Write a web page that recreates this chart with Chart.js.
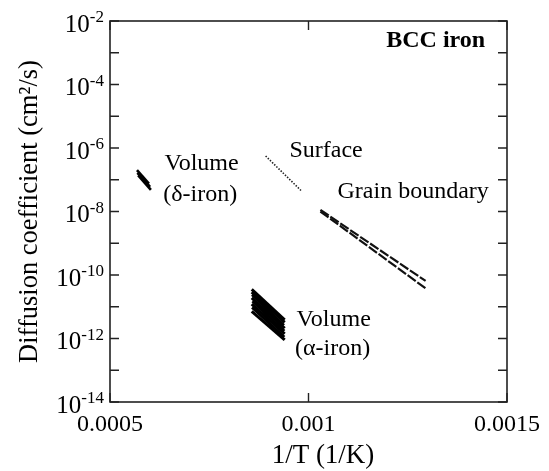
<!DOCTYPE html>
<html>
<head>
<meta charset="utf-8">
<script src="https://cdn.jsdelivr.net/npm/chart.js@4"></script>
<style>
  html, body { margin: 0; padding: 0; background: #fff; }
  #wrap { width: 549px; height: 471px; }
</style>
</head>
<body>
<div id="wrap"><canvas id="grafico"></canvas></div>
<script>
// eixo x: 1/T (1/K), eixo y: D (cm2/s), escala log
const xTickValues = [0.0005, 0.001, 0.0015];
const xTickLabels = ['0.0005', '0.001', '0.0015'];
const yTickExponents = [-14, -13, -12, -11, -10, -9, -8, -7, -6, -5, -4, -3, -2];

// Surface
const surfaceX = [0.000892, 0.000981];
const surfaceD = [5.6e-7, 4.6e-8];

// Grain boundary (duas linhas tracejadas)
const gbX = [0.00103, 0.001295];
const gbUpperD = [1.12e-8, 6.5e-11];
const gbLowerD = [1.0e-8, 3.8e-11];

// Volume (delta-iron)
const deltaStartX = [0.000568, 0.000569, 0.000571];
const deltaEndX = [0.000598, 0.000601, 0.000603];
const deltaStartD = [2.0e-7, 1.66e-7, 1.38e-7];
const deltaEndD = [7.6e-8, 6.0e-8, 4.8e-8];

// Volume (alpha-iron)
const alphaStartX = [0.000857, 0.000857, 0.000858, 0.000857, 0.000859, 0.000857, 0.000858, 0.000857];
const alphaEndX = [0.00094, 0.00094, 0.000938, 0.00094, 0.000939, 0.00094, 0.000939, 0.00094];
const alphaStartD = [3.5e-11, 2.9e-11, 2.4e-11, 1.9e-11, 1.5e-11, 1.2e-11, 9.5e-12, 7.2e-12];
const alphaEndD = [3.9e-12, 3.2e-12, 2.6e-12, 2.1e-12, 1.7e-12, 1.4e-12, 1.1e-12, 9.1e-13];

// textos no gráfico
const notes = [
    { text: 'BCC iron', x: 0.001445, y: 2.3e-3, align: 'right', bold: true },
    { text: 'Surface', x: 0.000952, y: 8.5e-7, align: 'left' },
    { text: 'Grain boundary', x: 0.001073, y: 4.1e-8, align: 'left' },
    { text: 'Volume', x: 0.000637, y: 3.1e-7, align: 'left' },
    { text: '(δ-iron)', x: 0.000634, y: 3.4e-8, align: 'left' },
    { text: 'Volume', x: 0.00097, y: 3.9e-12, align: 'left' },
    { text: '(α-iron)', x: 0.000966, y: 4.7e-13, align: 'left' }
];

const serif = "'Liberation Serif', 'Times New Roman', serif";

function linha(xs, ds) {
    return xs.map((x, i) => ({ x: x, y: ds[i] }));
}

const datasets = [];

datasets.push({
    label: 'Surface',
    data: linha(surfaceX, surfaceD),
    borderColor: '#222', borderWidth: 1.6, borderDash: [1.5, 1.5]
});
datasets.push({
    label: 'Grain boundary 1',
    data: linha(gbX, gbUpperD),
    borderColor: '#111', borderWidth: 2.2, borderDash: [10, 2]
});
datasets.push({
    label: 'Grain boundary 2',
    data: linha(gbX, gbLowerD),
    borderColor: '#111', borderWidth: 2.2, borderDash: [10, 2]
});
for (let i = 0; i < deltaStartX.length; i++) {
    datasets.push({
        label: 'Volume delta ' + (i + 1),
        data: linha([deltaStartX[i], deltaEndX[i]], [deltaStartD[i], deltaEndD[i]]),
        borderColor: '#000', borderWidth: 2.6
    });
}
for (let i = 0; i < alphaStartX.length; i++) {
    datasets.push({
        label: 'Volume alpha ' + (i + 1),
        data: linha([alphaStartX[i], alphaEndX[i]], [alphaStartD[i], alphaEndD[i]]),
        borderColor: '#000', borderWidth: 3
    });
}
datasets.forEach(d => { d.showLine = true; d.pointRadius = 0; d.fill = false; });

const decorPlugin = {
    id: 'decor',
    afterDraw(chart) {
        const { ctx, chartArea: a, scales } = chart;
        const x = scales.x, y = scales.y;
        ctx.save();

        // moldura
        ctx.strokeStyle = '#222';
        ctx.lineWidth = 1.6;
        ctx.strokeRect(a.left, a.top, a.right - a.left, a.bottom - a.top);

        // ticks para dentro
        ctx.lineWidth = 1.4;
        ctx.beginPath();
        y.ticks.forEach(t => {
            const py = y.getPixelForValue(t.value);
            ctx.moveTo(a.left, py); ctx.lineTo(a.left + 9, py);
            ctx.moveTo(a.right, py); ctx.lineTo(a.right - 9, py);
        });
        x.ticks.forEach(t => {
            const px = x.getPixelForValue(t.value);
            ctx.moveTo(px, a.top); ctx.lineTo(px, a.top + 9);
            ctx.moveTo(px, a.bottom); ctx.lineTo(px, a.bottom - 9);
        });
        ctx.stroke();

        // rótulos do eixo y com expoente
        ctx.fillStyle = '#000';
        yTickExponents.forEach(e => {
            if (e % 2 !== 0) return;
            const py = y.getPixelForValue(Math.pow(10, e));
            const sup = String(e);
            ctx.font = '17px ' + serif;
            const supW = ctx.measureText(sup).width;
            const rightEdge = 104;
            ctx.textBaseline = 'middle';
            ctx.textAlign = 'left';
            ctx.fillText(sup, rightEdge - supW, py - 3);
            ctx.font = '25px ' + serif;
            ctx.textAlign = 'right';
            ctx.fillText('10', rightEdge - supW, py + 4);
        });

        // título do eixo x
        ctx.font = '27px ' + serif;
        ctx.textAlign = 'center';
        ctx.textBaseline = 'middle';
        ctx.fillText('1/T (1/K)', 323, 456);

        // anotações
        notes.forEach(n => {
            ctx.font = (n.bold ? 'bold ' : '') + '24px ' + serif;
            ctx.textAlign = n.align;
            ctx.textBaseline = 'middle';
            ctx.fillText(n.text, x.getPixelForValue(n.x), y.getPixelForValue(n.y));
        });

        ctx.restore();
    }
};

const ctx = document.getElementById('grafico').getContext('2d');
new Chart(ctx, {
    type: 'scatter',
    data: { datasets: datasets },
    options: {
        responsive: true,
        maintainAspectRatio: false,
        animation: false,
        devicePixelRatio: 1,
        layout: { padding: { top: 21, right: 42, left: 0, bottom: 0 } },
        plugins: {
            legend: { display: false },
            tooltip: { enabled: false }
        },
        scales: {
            x: {
                type: 'linear',
                min: 0.0005,
                max: 0.0015,
                afterBuildTicks: (scale) => { scale.ticks = xTickValues.map(v => ({ value: v })); },
                afterFit: (scale) => { scale.height = 69; },
                grid: { display: false },
                border: { display: false },
                ticks: {
                    color: '#000',
                    padding: 0,
                    maxRotation: 0,
                    font: { family: serif, size: 24 },
                    callback: function (value) {
                        const i = xTickValues.findIndex(v => Math.abs(v - value) < 1e-9);
                        return i >= 0 ? xTickLabels[i] : '';
                    }
                }
            },
            y: {
                type: 'logarithmic',
                min: 1e-14,
                max: 1e-2,
                afterBuildTicks: (scale) => { scale.ticks = yTickExponents.map(e => ({ value: Math.pow(10, e) })); },
                afterFit: (scale) => { scale.width = 110; },
                grid: { display: false },
                border: { display: false },
                ticks: { display: false },
                title: {
                    display: true,
                    text: 'Diffusion coefficient (cm²/s)',
                    color: '#000',
                    font: { family: serif, size: 26.5 },
                    padding: { top: 14, bottom: 0 }
                }
            }
        }
    },
    plugins: [decorPlugin]
});
</script>
</body>
</html>
